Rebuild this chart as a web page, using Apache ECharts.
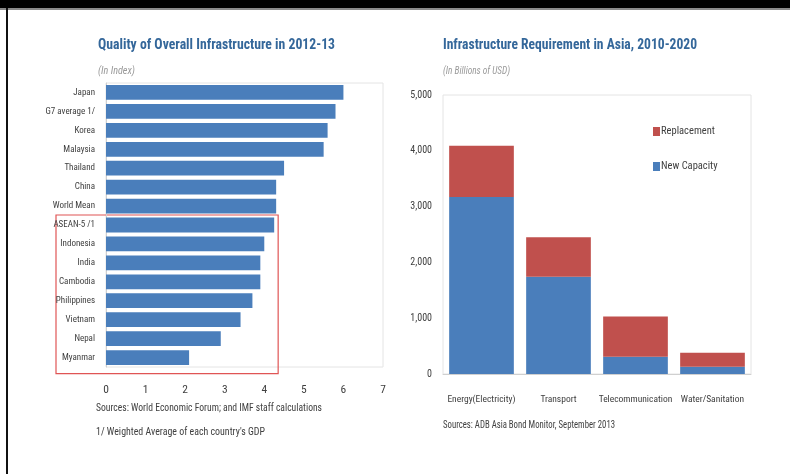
<!DOCTYPE html>
<html><head><meta charset="utf-8">
<script src="https://cdn.jsdelivr.net/npm/echarts@6/dist/echarts.min.js"></script>
<style>
html,body{margin:0;padding:0;background:#fff;}
#wrap{position:relative;width:790px;height:474px;overflow:hidden;}
#c{position:absolute;left:0;top:0;width:790px;height:474px;z-index:1;}
#band{position:absolute;left:0;top:0;width:790px;height:8px;background:#000;z-index:10;}
#bandline{position:absolute;left:0;top:8px;width:790px;height:2px;background:#8a8a8a;z-index:10;}
#lborder{position:absolute;left:6px;top:8px;width:2px;height:466px;background:#111;z-index:10;}
</style>
</head><body><div id="wrap"><div id="c"></div><div id="band"></div><div id="bandline"></div><div id="lborder"></div></div>
<script>
// Left chart data
var countries = ['Japan','G7 average 1/','Korea','Malaysia','Thailand','China','World Mean','ASEAN-5 /1','Indonesia','India','Cambodia','Philippines','Vietnam','Nepal','Myanmar'];
var qualityIndex = [6.0,5.8,5.6,5.5,4.5,4.3,4.3,4.25,4.0,3.9,3.9,3.7,3.4,2.9,2.1];
var xTicks = [0,1,2,3,4,5,6,7];
// Right chart data
var sectors = ['Energy(Electricity)','Transport','Telecommunication','Water/Sanitation'];
var newCapacity = [3170,1745,310,130];
var replacement = [920,705,720,250];
var yTicks = [0,1000,2000,3000,4000,5000];

var FONT = '"Roboto Condensed","Liberation Sans Narrow",sans-serif';
var blue = '#4a7ebb', red = '#c0504d', titleC = '#34679a', txt = '#404040';

var mctx = document.createElement('canvas').getContext('2d');
function fitScale(text, font, target){ mctx.font = font; var w = mctx.measureText(text).width; return w > 0 ? target / w : 1; }
function txtEl(id, text, x, y, font, fill, target){
  return {type:'text', id:id, x:x, y:y, scaleX:fitScale(text, font, target), scaleY:1,
    style:{text:text, font:font, fill:fill, textVerticalAlign:'middle', verticalAlign:'middle'}};
}

var chart = echarts.init(document.getElementById('c'), null, {renderer:'canvas'});

var graphics = [
  txtEl('t1', 'Quality of Overall Infrastructure in 2012-13', 98, 45, 'bold 15px '+FONT, titleC, 237),
  txtEl('s1', '(In Index)', 98, 71, 'italic 10px '+FONT, '#9a9a9a', 37),
  txtEl('t2', 'Infrastructure Requirement in Asia, 2010-2020', 443, 45, 'bold 15px '+FONT, titleC, 254),
  txtEl('s2', '(In Billions of USD)', 443, 71, 'italic 10px '+FONT, '#9a9a9a', 67),
  txtEl('f1', 'Sources: World Economic Forum; and IMF staff calculations', 96, 408, '11px '+FONT, txt, 226),
  txtEl('f2', "1/ Weighted Average of each country's GDP", 96, 432, '11px '+FONT, txt, 169),
  txtEl('f3', 'Sources: ADB Asia Bond Monitor, September 2013', 443, 425, '11px '+FONT, txt, 172)
];

chart.setOption({
  animation:false,
  textStyle:{fontFamily:FONT},
  legend:{data:['Replacement','New Capacity'], orient:'vertical', left:648, top:121, itemGap:24,
    icon:'rect', itemWidth:7, itemHeight:9, itemStyle:{borderWidth:0},
    textStyle:{fontFamily:FONT,fontSize:10.5,color:txt,padding:[0,0,0,-4]}},
  grid:[
    {left:106, width:277, top:83, height:284, show:true, borderColor:'#e4e4e4', borderWidth:1},
    {left:443, width:308, top:95, height:279, show:true, borderColor:'#e4e4e4', borderWidth:1}
  ],
  xAxis:[
    {gridIndex:0, type:'value', min:0, max:7, interval:1,
     axisLine:{show:false}, axisTick:{show:false}, splitLine:{show:false},
     axisLabel:{fontFamily:FONT,fontSize:11.5,color:txt,margin:17}},
    {gridIndex:1, type:'category', data:sectors,
     axisLine:{show:true,lineStyle:{color:'#d0d0d0'}}, axisTick:{show:false},
     axisLabel:{fontFamily:FONT,fontSize:9.5,color:txt,margin:21,interval:0}}
  ],
  yAxis:[
    {gridIndex:0, type:'category', data:countries, inverse:true,
     axisLine:{show:true,lineStyle:{color:'#d0d0d0'}}, axisTick:{show:false},
     axisLabel:{fontFamily:FONT,fontSize:9,color:txt,margin:11}},
    {gridIndex:1, type:'value', min:0, max:5000, interval:1000,
     axisLine:{show:false}, axisTick:{show:false}, splitLine:{show:false},
     axisLabel:{fontFamily:FONT,fontSize:10,color:txt,margin:11,
       formatter:function(v){return v===0?'0':echarts.format.addCommas(v);}}}
  ],
  series:[
    {type:'bar', xAxisIndex:0, yAxisIndex:0, data:qualityIndex, barCategoryGap:'22%',
     itemStyle:{color:blue}},
    {name:'New Capacity', type:'bar', stack:'s', xAxisIndex:1, yAxisIndex:1, data:newCapacity,
     barCategoryGap:'16%', itemStyle:{color:blue}},
    {name:'Replacement', type:'bar', stack:'s', xAxisIndex:1, yAxisIndex:1, data:replacement,
     barCategoryGap:'16%', itemStyle:{color:red}}
  ],
  graphic:graphics
});
// Highlight box around the ASEAN group, placed from the axis scale
var yTop = chart.convertToPixel({yAxisIndex:0}, 'ASEAN-5 /1');
var yBot = chart.convertToPixel({yAxisIndex:0}, 'Myanmar');
var xr = chart.convertToPixel({xAxisIndex:0}, 4.3);
chart.setOption({graphic:[
  {type:'rect', id:'box', shape:{x:56, y:yTop-10, width:xr+2-56, height:(yBot-yTop)+26},
   style:{fill:'none', stroke:'#e05555', lineWidth:1.2}}
]});
</script></body></html>
